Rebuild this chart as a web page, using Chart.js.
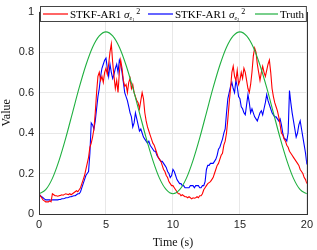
<!DOCTYPE html>
<html>
<head>
<meta charset="utf-8">
<script src="https://cdn.jsdelivr.net/npm/chart.js@4"></script>
<style>
  html, body { margin: 0; padding: 0; background: #fff; }
  canvas { display: block; }
</style>
</head>
<body>
<canvas id="c" width="317" height="250"></canvas>
<script>
// sampled every 0.1 s, 0..20 s
const STEP = 0.1;
const red = [
  0.10, 0.09, 0.08, 0.07, 0.065, 0.06, 0.06, 0.06, 0.065, 0.06,
  0.10, 0.095, 0.09, 0.09, 0.088, 0.09, 0.092, 0.095, 0.093, 0.097,
  0.10, 0.098, 0.096, 0.10, 0.095, 0.10, 0.105, 0.11, 0.115, 0.11,
  0.12, 0.13, 0.15, 0.17, 0.19, 0.22, 0.25, 0.28, 0.33, 0.35,
  0.38, 0.42, 0.50, 0.60, 0.68, 0.70, 0.66, 0.68, 0.65, 0.70,
  0.72, 0.69, 0.74, 0.80, 0.84, 0.75, 0.68, 0.62, 0.66, 0.60,
  0.70, 0.76, 0.72, 0.66, 0.63, 0.64, 0.60, 0.65, 0.67, 0.62,
  0.64, 0.60, 0.58, 0.56, 0.55, 0.52, 0.56, 0.60, 0.57, 0.50,
  0.46, 0.43, 0.41, 0.39, 0.37, 0.35, 0.34, 0.32, 0.30, 0.28,
  0.27, 0.26, 0.24, 0.22, 0.21, 0.19, 0.18, 0.16, 0.15, 0.14,
  0.14, 0.13, 0.12, 0.11, 0.10, 0.10, 0.09, 0.095, 0.09, 0.085,
  0.085, 0.08, 0.085, 0.08, 0.075, 0.08, 0.078, 0.08, 0.085, 0.08,
  0.09, 0.09, 0.10, 0.12, 0.13, 0.14, 0.15, 0.155, 0.16, 0.17,
  0.18, 0.20, 0.22, 0.24, 0.25, 0.27, 0.29, 0.30, 0.34, 0.36,
  0.40, 0.47, 0.55, 0.62, 0.70, 0.73, 0.68, 0.66, 0.71, 0.64,
  0.66, 0.70, 0.67, 0.72, 0.70, 0.66, 0.62, 0.60, 0.64, 0.70,
  0.78, 0.82, 0.80, 0.74, 0.70, 0.66, 0.70, 0.73, 0.70, 0.68,
  0.71, 0.74, 0.76, 0.70, 0.62, 0.58, 0.55, 0.53, 0.51, 0.48,
  0.44, 0.40, 0.39, 0.37, 0.36, 0.34, 0.33, 0.31, 0.30, 0.29,
  0.28, 0.27, 0.26, 0.25, 0.24, 0.22, 0.21, 0.20, 0.18, 0.17,
  0.15
];
const blue = [
  0.10, 0.09, 0.085, 0.08, 0.075, 0.07, 0.07, 0.07, 0.07, 0.068,
  0.07, 0.07, 0.07, 0.07, 0.07, 0.072, 0.072, 0.075, 0.075, 0.077,
  0.08, 0.08, 0.082, 0.085, 0.085, 0.088, 0.09, 0.09, 0.095, 0.10,
  0.10, 0.11, 0.13, 0.15, 0.17, 0.19, 0.20, 0.21, 0.30, 0.45,
  0.44, 0.42, 0.46, 0.52, 0.58, 0.62, 0.68, 0.72, 0.74, 0.76,
  0.77, 0.72, 0.68, 0.74, 0.70, 0.67, 0.69, 0.72, 0.74, 0.70,
  0.76, 0.74, 0.70, 0.65, 0.60, 0.58, 0.56, 0.53, 0.50, 0.48,
  0.43, 0.45, 0.50, 0.47, 0.44, 0.41, 0.42, 0.40, 0.38, 0.37,
  0.36, 0.35, 0.36, 0.34, 0.33, 0.32, 0.31, 0.31, 0.29, 0.28,
  0.27, 0.26, 0.26, 0.25, 0.24, 0.23, 0.21, 0.20, 0.18, 0.19,
  0.22, 0.21, 0.19, 0.17, 0.16, 0.15, 0.15, 0.14, 0.14, 0.13,
  0.13, 0.13, 0.13, 0.14, 0.14, 0.14, 0.13, 0.14, 0.14, 0.14,
  0.13, 0.13, 0.14, 0.14, 0.16, 0.22, 0.24, 0.24, 0.25, 0.25,
  0.25, 0.26, 0.27, 0.29, 0.32, 0.33, 0.35, 0.37, 0.40, 0.42,
  0.50, 0.57, 0.60, 0.63, 0.65, 0.62, 0.60, 0.66, 0.63, 0.58,
  0.57, 0.53, 0.52, 0.50, 0.49, 0.54, 0.59, 0.55, 0.50, 0.52,
  0.50, 0.48, 0.47, 0.46, 0.48, 0.50, 0.51, 0.49, 0.52, 0.55,
  0.59, 0.56, 0.54, 0.52, 0.50, 0.49, 0.48, 0.48, 0.47, 0.46,
  0.47, 0.44, 0.40, 0.375, 0.37, 0.36, 0.40, 0.61, 0.55, 0.50,
  0.46, 0.42, 0.38, 0.40, 0.44, 0.46, 0.42, 0.38, 0.34, 0.30,
  0.245
];
// truth curve, read every 0.5 s
const truthT = [0, 0.5, 1, 1.5, 2, 2.5, 3, 3.5, 4, 4.5, 5, 5.5, 6, 6.5, 7, 7.5, 8, 8.5, 9, 9.5, 10,
  10.5, 11, 11.5, 12, 12.5, 13, 13.5, 14, 14.5, 15, 15.5, 16, 16.5, 17, 17.5, 18, 18.5, 19, 19.5, 20];
const truth = [0.10, 0.12, 0.176, 0.265, 0.376, 0.50, 0.624, 0.735, 0.824, 0.88, 0.90, 0.88, 0.824, 0.735, 0.624, 0.50, 0.376, 0.265, 0.176, 0.12, 0.10,
  0.12, 0.176, 0.265, 0.376, 0.50, 0.624, 0.735, 0.824, 0.88, 0.90, 0.88, 0.824, 0.735, 0.624, 0.50, 0.376, 0.265, 0.176, 0.12, 0.10];
const yTicks = [0, 0.2, 0.4, 0.6, 0.8, 1];
const xTicks = [0, 5, 10, 15, 20];

const RED = "#ff0000", BLUE = "#0000ff", GREEN = "#20b040";
const SERIF = "'Liberation Serif', 'DejaVu Serif', serif";
const SANS = "'Liberation Sans', Arial, sans-serif";

const pts = (arr) => arr.map((v, i) => ({ x: +(i * STEP).toFixed(1), y: v }));

const boxPlugin = {
  id: "box",
  afterDatasetsDraw(chart) {
    const { ctx, chartArea: a } = chart;
    ctx.save();
    ctx.strokeStyle = "#333";
    ctx.lineWidth = 1;
    ctx.strokeRect(Math.round(a.left) + 0.5, Math.round(a.top) + 0.5,
      Math.round(a.right - a.left), Math.round(a.bottom - a.top));
    ctx.restore();
  },
};

// legend with sigma sub/superscripts, drawn by hand
const legendPlugin = {
  id: "mlegend",
  afterDraw(chart) {
    const { ctx, chartArea: a } = chart;
    const x0 = a.left + 1, x1 = a.right, y0 = 6, y1 = 21;
    const my = (y0 + y1) / 2 + 0.5;
    ctx.save();
    ctx.fillStyle = "#fff";
    ctx.fillRect(x0, y0, x1 - x0, y1 - y0);
    ctx.strokeStyle = "#444";
    ctx.lineWidth = 1;
    ctx.strokeRect(x0 + 0.5, y0 + 0.5, x1 - x0 - 1, y1 - y0);
    const line = (xa, xb, c) => {
      ctx.strokeStyle = c;
      ctx.lineWidth = 1.2;
      ctx.beginPath();
      ctx.moveTo(xa, my);
      ctx.lineTo(xb, my);
      ctx.stroke();
    };
    const sigma = (x, sub) => {
      ctx.fillStyle = "#000";
      ctx.textBaseline = "alphabetic";
      ctx.font = "11px " + SERIF;
      ctx.fillText("STKF-AR1 ", x, my + 4);
      x += ctx.measureText("STKF-AR1 ").width;
      ctx.font = "italic 11px " + SERIF;
      ctx.fillText("σ", x, my + 4);
      x += ctx.measureText("σ").width;
      ctx.font = "italic 6px " + SERIF;
      ctx.fillText("e", x, my + 6);
      const ew = ctx.measureText("e").width;
      ctx.font = "4px " + SERIF;
      ctx.fillText(sub, x + ew, my + 7);
      ctx.font = "8px " + SERIF;
      ctx.fillText("2", x + ew + 4, my);
    };
    line(43, 68, RED);
    sigma(70, "1");
    line(148, 173, BLUE);
    sigma(175, "2");
    line(255, 278, GREEN);
    ctx.fillStyle = "#000";
    ctx.font = "11px " + SERIF;
    ctx.fillText("Truth", 280, my + 4);
    ctx.restore();
  },
};

new Chart(document.getElementById("c"), {
  type: "line",
  data: {
    datasets: [
      { data: truthT.map((t, i) => ({ x: t, y: truth[i] })), borderColor: GREEN, borderWidth: 1.1, tension: 0.4, cubicInterpolationMode: "monotone" },
      { data: pts(red), borderColor: RED, borderWidth: 1.1, tension: 0 },
      { data: pts(blue), borderColor: BLUE, borderWidth: 1.1, tension: 0 },
    ],
  },
  options: {
    responsive: false,
    animation: false,
    devicePixelRatio: 1,
    elements: { point: { radius: 0 } },
    layout: { padding: { top: 8, right: 9, left: 0, bottom: 0 } },
    plugins: { legend: { display: false }, tooltip: { enabled: false } },
    scales: {
      x: {
        type: "linear",
        min: 0,
        max: 20,
        afterBuildTicks: (s) => { s.ticks = xTicks.map((v) => ({ value: v })); },
        afterFit: (s) => { s.height = 36; },
        grid: { color: "#e8e8e8", drawTicks: false },
        border: { display: false },
        ticks: { color: "#262626", font: { family: SANS, size: 11 }, padding: 4, callback: (v) => String(v) },
        title: { display: true, text: "Time (s)", color: "#111", font: { family: SERIF, size: 12 }, padding: { top: 0, bottom: 0 } },
      },
      y: {
        min: 0,
        max: 1,
        afterBuildTicks: (s) => { s.ticks = yTicks.map((v) => ({ value: v })); },
        afterFit: (s) => { s.width = 39; },
        grid: { color: "#e8e8e8", drawTicks: false },
        border: { display: false },
        ticks: { color: "#262626", font: { family: SANS, size: 11 }, padding: 5, callback: (v) => String(+v.toFixed(1)) },
        title: { display: true, text: "Value", color: "#111", font: { family: SERIF, size: 12 }, padding: { top: 0, bottom: 0 } },
      },
    },
  },
  plugins: [boxPlugin, legendPlugin],
});
</script>
</body>
</html>
